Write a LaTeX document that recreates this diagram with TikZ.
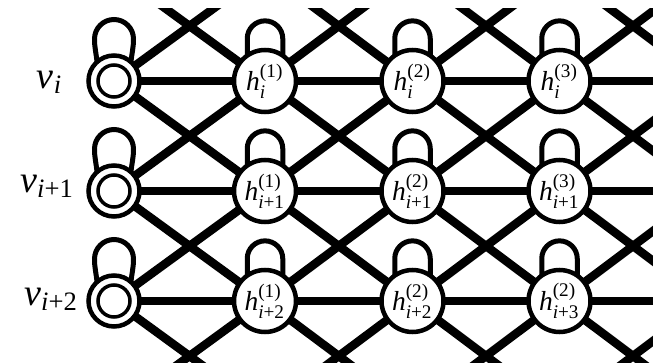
\documentclass[tikz,border=0pt]{standalone}
\usepackage{amsmath}
\usepackage{fontspec}
\setmainfont{Liberation Serif}
\usepackage{graphicx}
\usetikzlibrary{backgrounds}
\tikzset{
  hnode/.style={circle, draw, line width=4.5pt, fill=white, minimum size=62pt, inner sep=0pt},
  vnode/.style={circle, draw, line width=4.5pt, fill=white, minimum size=51pt, inner sep=0pt},
  vinner/.style={line width=3.5pt},
  link/.style={line width=8.5pt},
  selfloop/.style={line width=5pt},
  vlabel/.style={anchor=base, inner sep=0pt},
}
% h^{(k)}_{sub}, set in Times-like type
\newcommand\hlab[2]{\scalebox{2.75}{$\textit{h}_{\text{#1}}^{\text{(#2)}}$}}
\newcommand\vlab[1]{\scalebox{3.8}{$\textit{v}_{\text{#1}}$}}
\newcommand\hloopat[1]{\draw[selfloop] ([shift={(-17.75,25.4)}]#1.center) -- ++(0,17) arc[start angle=180,end angle=0,radius=17.75] -- ++(0,-17);}
\newcommand\vloopat[1]{\draw[selfloop] ([shift={(-17,19)}]#1.center) to[out=95,in=-90] ([shift={(-19.5,42)}]#1.center) arc[start angle=180,end angle=0,radius=19.5] to[out=-90,in=85] ([shift={(17,19)}]#1.center);}
\begin{document}
\begin{tikzpicture}[x=1pt,y=1pt]
\useasboundingbox (0,0) rectangle (653,362);
% visible nodes
\node[vnode] (n-0-1) at (114,281) {};
\node[vnode] (n-0-2) at (114,171) {};
\node[vnode] (n-0-3) at (114,61) {};
\node[hnode] (n-1-1) at (265,281) {\hlab{\textit{i}}{1}};
\node[hnode] (n-2-1) at (412.5,281) {\hlab{\textit{i}}{2}};
\node[hnode] (n-3-1) at (559.5,281) {\hlab{\textit{i}}{3}};
\node[hnode] (n-1-2) at (265,171) {\hlab{\textit{i}+1}{1}};
\node[hnode] (n-2-2) at (412.5,171) {\hlab{\textit{i}+1}{2}};
\node[hnode] (n-3-2) at (559.5,171) {\hlab{\textit{i}+1}{3}};
\node[hnode] (n-1-3) at (265,61) {\hlab{\textit{i}+2}{1}};
\node[hnode] (n-2-3) at (412.5,61) {\hlab{\textit{i}+2}{2}};
\node[hnode] (n-3-3) at (559.5,61) {\hlab{\textit{i}+3}{2}};
% off-picture ends of the connectors
\foreach \c/\x in {0/114,1/265,2/412.5,3/559.5,4/706.5} {
  \coordinate (n-\c-0) at (\x,391);
  \coordinate (n-\c-4) at (\x,-49);
}
\foreach \r/\y in {1/281,2/171,3/61} \coordinate (n-4-\r) at (706.5,\y);
% connectors
\begin{scope}[on background layer]
\clip (0,0) rectangle (653,353);
\foreach \c [evaluate=\c as \d using int(\c+1)] in {0,...,3} {
  \foreach \r in {1,2,3} \draw[link] (n-\c-\r.center) -- (n-\d-\r.center);
  \foreach \r [evaluate=\r as \s using int(\r+1)] in {0,...,3} {
    \draw[link] (n-\c-\r.center) -- (n-\d-\s.center);
    \draw[link] (n-\c-\s.center) -- (n-\d-\r.center);
  }
}
\end{scope}
% inner rings of the input nodes
\foreach \r in {1,2,3} \draw[vinner] (n-0-\r.center) circle[radius=16];
% self loops
\foreach \r in {1,2,3} {
  \vloopat{n-0-\r}
  \foreach \c in {1,2,3} {\hloopat{n-\c-\r}}
}
% labels
\node[vlabel] (lv1) at (50,274) {\vlab{\textit{i}}};
\node[vlabel] (lv2) at (47.5,170) {\vlab{\textit{i}+1}};
\node[vlabel] (lv3) at (51.5,57) {\vlab{\textit{i}+2}};
\end{tikzpicture}
\end{document}
